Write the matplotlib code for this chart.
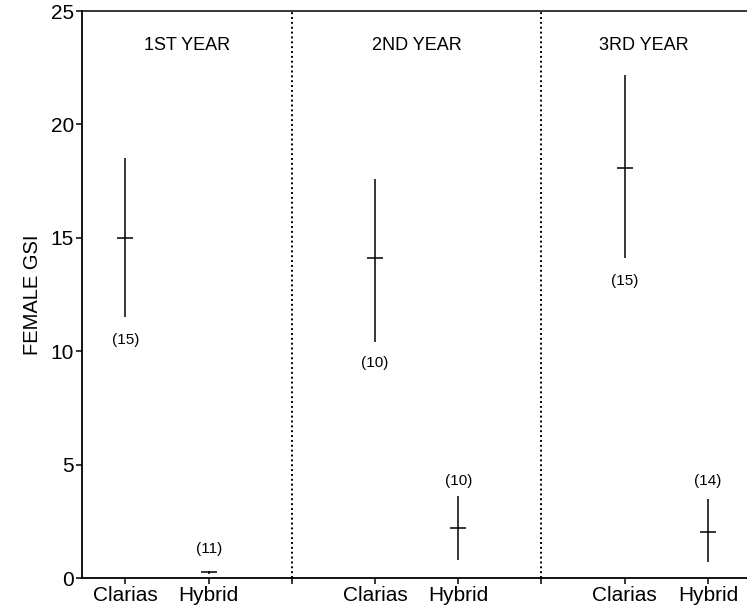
import matplotlib
matplotlib.use("Agg")
import matplotlib.pyplot as plt

plt.rcParams['font.family'] = ['Liberation Sans', 'DejaVu Sans']

# data
years = ['1ST YEAR', '2ND YEAR', '3RD YEAR']
groups = ['Clarias', 'Hybrid']
means = [15.0, 0.25, 14.1, 2.2, 18.1, 2.05]
upper = [18.5, 0.3, 17.6, 3.6, 22.2, 3.5]
lower = [11.5, 0.2, 10.4, 0.8, 14.1, 0.7]
counts = ['(15)', '(11)', '(10)', '(10)', '(15)', '(14)']
count_y = [10.5, 1.3, 9.5, 4.3, 13.1, 4.3]

xpos = [1, 2, 4, 5, 7, 8]
dividers = [3, 6]

fig = plt.figure(figsize=(7.47, 6.13), dpi=100)
ax = fig.add_axes([0.110, 0.057, 0.89, 0.925])

err_lo = [m - l for m, l in zip(means, lower)]
err_hi = [u - m for m, u in zip(means, upper)]
ax.errorbar(xpos, means, yerr=[err_lo, err_hi], fmt='_', color='black',
            ecolor='black', elinewidth=1.1, markersize=12, mew=1.1, capsize=0)

for x, y, t in zip(xpos, count_y, counts):
    ax.text(x, y, t, ha='center', va='center', fontsize=11)

for d in dividers:
    ax.axvline(d, color='black', lw=1.4, linestyle=(0, (1, 1.5)))

ax.set_xlim(0.48, 8.47)
ax.set_ylim(0, 25)

# panel titles centred in visible part of each panel
edges = [0.48, 3, 6, 8.47]
for i, yr in enumerate(years):
    ax.text((edges[i] + edges[i + 1]) / 2, 23.5, yr, ha='center', va='center', fontsize=13)

ax.set_yticks([0, 5, 10, 15, 20, 25])
ax.set_xticks([1, 2, 3, 4, 5, 6, 7, 8])
ax.set_xticklabels(['Clarias', 'Hybrid', '', 'Clarias', 'Hybrid', '', 'Clarias', 'Hybrid'])
ax.tick_params(axis='both', direction='out', length=4, width=1.1, labelsize=15, pad=2)
ax.set_ylabel('FEMALE GSI', fontsize=14.5, labelpad=6)

ax.spines['right'].set_visible(False)
for s in ['left', 'bottom']:
    ax.spines[s].set_linewidth(1.3)
ax.spines['top'].set_linewidth(1.1)

fig.savefig('out.png', dpi=100)
